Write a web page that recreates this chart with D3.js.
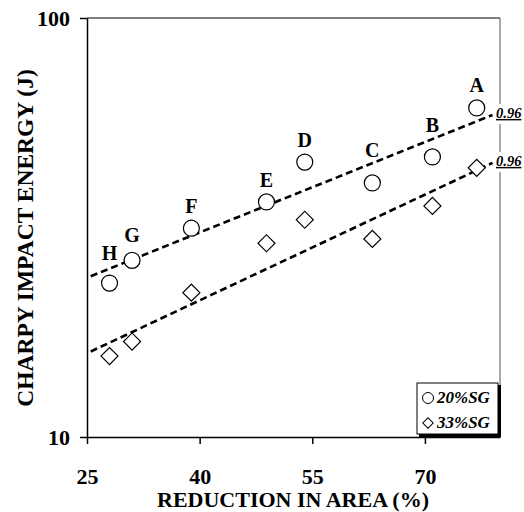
<!DOCTYPE html>
<html>
<head>
<meta charset="utf-8">
<script src="https://cdn.jsdelivr.net/npm/d3@7"></script>
<style>
  body { margin: 0; background: #fff; }
  svg { display: block; }
  svg text { font-family: "Liberation Serif", "Times New Roman", serif; }
</style>
</head>
<body>
<div id="chart"></div>
<script>
// specimens
let specimens = ['H', 'G', 'F', 'E', 'D', 'C', 'B', 'A'];
let reduction = [28.0, 31.0, 38.9, 48.9, 54.0, 63.0, 71.0, 76.9];
let energy20 = [23.3, 26.4, 31.5, 36.4, 45.3, 40.4, 46.6, 61.0];
let energy33 = [15.6, 16.9, 22.1, 29.0, 33.0, 29.7, 35.6, 43.9];

// trend lines (end points) and their r values
let fit20 = [[25.5, 24.2], [79.0, 58.7]];
let fit33 = [[25.5, 16.0], [79.0, 45.1]];
let rValues = ['0.96', '0.96'];

let xTicks = [25, 40, 55, 70];
let yTicks = [10, 100];
let seriesNames = ['20%SG', '33%SG'];

// how far each letter sits above its circle (px)
let labelLift = [23, 18, 15, 15, 15, 26, 25, 16];

let width = 524,
    height = 512;

let margin = {top: 18, bottom: 75, left: 87, right: 24};

let svg = d3.select('#chart')
  .append('svg')
  .attr('width', width)
  .attr('height', height);

let xScale = d3.scaleLinear()
  .domain([25, 80])
  .range([margin.left, width - margin.right]);

let yScale = d3.scaleLog()
  .domain([10, 100])
  .range([height - margin.bottom, margin.top]);

let bottom = height - margin.bottom,
    right = width - margin.right;

// frame
svg.append('line')
  .attr('x1', margin.left).attr('x2', right)
  .attr('y1', margin.top).attr('y2', margin.top)
  .attr('stroke', '#000').attr('stroke-width', 1.2);
svg.append('line')
  .attr('x1', right).attr('x2', right)
  .attr('y1', margin.top).attr('y2', bottom)
  .attr('stroke', '#555').attr('stroke-width', 1);

// axes
let xAxis = svg.append('g')
  .attr('transform', `translate(0,${bottom})`)
  .call(d3.axisBottom(xScale).tickValues(xTicks).tickSize(7).tickSizeOuter(0).tickPadding(24))
  .attr('font-family', null);
xAxis.select('.domain').attr('stroke-width', 1.5);
xAxis.selectAll('line').attr('stroke-width', 1.5);
xAxis.selectAll('text')
  .style('font-size', '22px')
  .style('font-weight', 'bold')
  .attr('fill', '#000');

let yAxis = svg.append('g')
  .attr('transform', `translate(${margin.left},0)`)
  .call(d3.axisLeft(yScale).tickValues(yTicks).tickFormat(d3.format('d')).tickSize(7).tickSizeOuter(0).tickPadding(10))
  .attr('font-family', null);
yAxis.select('.domain').attr('stroke-width', 1.5);
yAxis.selectAll('line').attr('stroke-width', 1.5);
yAxis.selectAll('text')
  .style('font-size', '22px')
  .style('font-weight', 'bold')
  .attr('dy', '0.32em')
  .attr('fill', '#000');

// axis titles
svg.append('text')
  .attr('x', 293)
  .attr('y', 507)
  .text('REDUCTION IN AREA (%)')
  .style('text-anchor', 'middle')
  .style('font-size', '22px')
  .style('font-weight', 'bold');

svg.append('text')
  .attr('transform', 'rotate(-90)')
  .attr('x', -238)
  .attr('y', 33)
  .text('CHARPY IMPACT ENERGY (J)')
  .style('text-anchor', 'middle')
  .style('font-size', '23.5px')
  .style('font-weight', 'bold');

// trend lines
let line = d3.line()
  .x(d => xScale(d[0]))
  .y(d => yScale(d[1]));

[fit20, fit33].forEach(f => {
  svg.append('path')
    .datum(f)
    .attr('d', line)
    .attr('fill', 'none')
    .attr('stroke', '#000')
    .attr('stroke-width', 2.6)
    .attr('stroke-dasharray', '7,4');
});

// r labels
[fit20, fit33].forEach((f, i) => {
  let end = f[f.length - 1];
  let ty = yScale(end[1]) + 3;
  svg.append('rect')
    .attr('x', right - 3).attr('y', ty - 14)
    .attr('width', 30).attr('height', 20)
    .attr('fill', '#fff');
  svg.append('text')
    .attr('x', right - 4)
    .attr('y', ty)
    .text(rValues[i])
    .style('font-size', '14.5px')
    .style('font-weight', 'bold')
    .style('font-style', 'italic')
    .style('text-decoration', 'underline');
});

let pts = specimens.map((s, i) => ({
  name: s, x: reduction[i], e20: energy20[i], e33: energy33[i], lift: labelLift[i]
}));

let diamond = d3.symbol().type(d3.symbolSquare).size(145);

// 33%SG diamonds
svg.selectAll('.dia')
  .data(pts)
  .enter()
  .append('path')
  .attr('class', 'dia')
  .attr('d', diamond)
  .attr('transform', d => `translate(${xScale(d.x)},${yScale(d.e33)}) rotate(45)`)
  .attr('fill', '#fff')
  .attr('stroke', '#000')
  .attr('stroke-width', 1.2);

// 20%SG circles
svg.selectAll('.circ')
  .data(pts)
  .enter()
  .append('circle')
  .attr('class', 'circ')
  .attr('cx', d => xScale(d.x))
  .attr('cy', d => yScale(d.e20))
  .attr('r', 8)
  .attr('fill', '#fff')
  .attr('stroke', '#000')
  .attr('stroke-width', 1.2);

// specimen letters
svg.selectAll('.lab')
  .data(pts)
  .enter()
  .append('text')
  .attr('class', 'lab')
  .attr('x', d => xScale(d.x))
  .attr('y', d => yScale(d.e20) - d.lift)
  .text(d => d.name)
  .style('text-anchor', 'middle')
  .style('font-size', '20px')
  .style('font-weight', 'bold');

// legend
let lg = svg.append('g').attr('transform', 'translate(417,383)');
lg.append('rect')
  .attr('x', 2).attr('y', 2).attr('width', 82).attr('height', 52)
  .attr('fill', '#000');
lg.append('rect')
  .attr('x', 0).attr('y', 0).attr('width', 81).attr('height', 51)
  .attr('fill', '#fff').attr('stroke', '#000').attr('stroke-width', 1);

seriesNames.forEach((name, i) => {
  let cy = 15 + i * 25;
  if (i === 0) {
    lg.append('circle')
      .attr('cx', 11).attr('cy', cy).attr('r', 5.5)
      .attr('fill', '#fff').attr('stroke', '#000').attr('stroke-width', 1);
  } else {
    lg.append('path')
      .attr('d', d3.symbol().type(d3.symbolSquare).size(55))
      .attr('transform', `translate(11,${cy}) rotate(45)`)
      .attr('fill', '#fff').attr('stroke', '#000').attr('stroke-width', 1);
  }
  lg.append('text')
    .attr('x', 20)
    .attr('y', cy + 5)
    .text(name)
    .style('font-size', '17px')
    .style('font-weight', 'bold')
    .style('font-style', 'italic');
});
</script>
</body>
</html>
